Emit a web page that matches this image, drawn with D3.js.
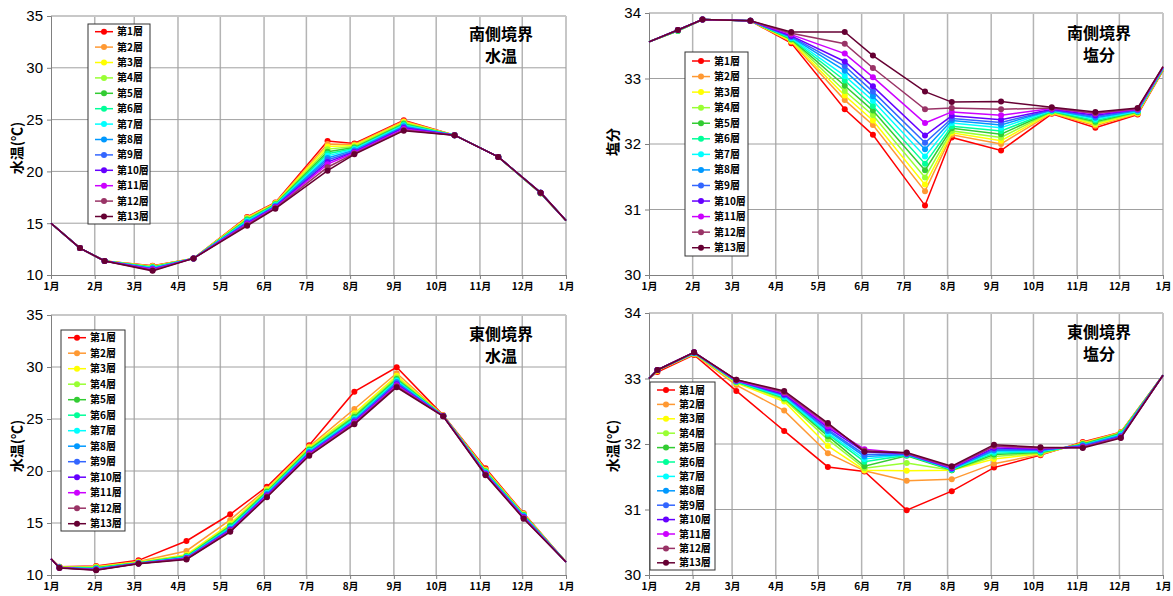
<html>
<head>
<script src="https://cdn.jsdelivr.net/npm/d3@7"></script>
<style>
  body { margin: 0; background: #fff; }
  svg text { font-family: "Liberation Sans Narrow", "Liberation Sans", "Noto Sans CJK JP", sans-serif; fill: #000; }
  .jp { font-family: "Noto Sans CJK JP", sans-serif; }
</style>
</head>
<body>
<svg id="chart" width="1173" height="596"></svg>
<script>
// layers
var layerNames = ["第1層","第2層","第3層","第4層","第5層","第6層","第7層","第8層","第9層","第10層","第11層","第12層","第13層"];
var layerColors = ["#ff0000","#ff9933","#ffff00","#99ff33","#33cc33","#00ff99","#00ffff","#0099ff","#3366ff","#6600ff","#cc00ff","#993366","#660033"];

// x axis: day of year of each month start
var monthDays = [0,31,59,90,120,151,181,212,243,273,304,334,365];
var monthLabels = ["1月","2月","3月","4月","5月","6月","7月","8月","9月","10月","11月","12月","1月"];

// observation days
var southDays = [0,20.5,38,72,101,139,159,196,215,250,286,317,347,365];
var eastDays  = [0,6,32,62,96,127,153,183,215,245,278,308,335,365];

// values by date, each row = 第1層 .. 第13層
var southTemp = [
  [15,15,15,15,15,15,15,15,15,15,15,15,15],
  [12.6,12.6,12.6,12.6,12.6,12.6,12.6,12.6,12.6,12.6,12.6,12.6,12.6],
  [11.35,11.35,11.35,11.35,11.35,11.35,11.35,11.35,11.35,11.35,11.35,11.35,11.35],
  [10.9,10.87,10.83,10.8,10.76,10.72,10.68,10.64,10.6,10.56,10.52,10.47,10.4],
  [11.6,11.6,11.6,11.6,11.6,11.6,11.6,11.6,11.6,11.6,11.6,11.6,11.6],
  [15.6,15.55,15.48,15.42,15.35,15.28,15.2,15.12,15.05,14.98,14.9,14.83,14.75],
  [17.0,16.96,16.92,16.87,16.82,16.77,16.72,16.67,16.62,16.57,16.52,16.46,16.4],
  [22.93,22.65,22.4,22.15,21.9,21.7,21.5,21.3,21.1,20.9,20.7,20.4,20.07],
  [22.7,22.6,22.5,22.4,22.3,22.2,22.15,22.05,21.95,21.88,21.8,21.72,21.65],
  [24.93,24.85,24.77,24.68,24.6,24.52,24.44,24.36,24.28,24.2,24.1,24.0,23.93],
  [23.5,23.5,23.5,23.5,23.5,23.5,23.5,23.5,23.5,23.5,23.5,23.5,23.5],
  [21.4,21.4,21.4,21.4,21.4,21.4,21.4,21.4,21.4,21.4,21.4,21.4,21.4],
  [17.9,17.9,17.9,17.9,17.9,17.9,17.95,17.95,17.95,17.95,17.95,17.95,17.95],
  [15.25,15.25,15.25,15.25,15.25,15.25,15.25,15.25,15.25,15.25,15.25,15.25,15.25]
];
var southSalt = [
  [33.56,33.56,33.56,33.56,33.56,33.56,33.56,33.56,33.56,33.56,33.56,33.56,33.56],
  [33.73,33.73,33.73,33.73,33.73,33.73,33.74,33.74,33.74,33.74,33.74,33.74,33.74],
  [33.9,33.9,33.9,33.9,33.9,33.9,33.9,33.9,33.9,33.9,33.9,33.9,33.9],
  [33.88,33.88,33.88,33.88,33.88,33.88,33.88,33.88,33.88,33.88,33.88,33.88,33.88],
  [33.54,33.56,33.57,33.59,33.6,33.61,33.62,33.63,33.64,33.65,33.67,33.69,33.71],
  [32.53,32.67,32.74,32.81,32.89,32.97,33.04,33.12,33.19,33.26,33.38,33.53,33.71],
  [32.14,32.29,32.36,32.44,32.51,32.58,32.66,32.73,32.8,32.88,33.02,33.16,33.35],
  [31.06,31.28,31.38,31.49,31.6,31.7,31.81,31.92,32.02,32.13,32.32,32.53,32.8],
  [32.1,32.14,32.17,32.2,32.24,32.27,32.32,32.36,32.39,32.43,32.49,32.55,32.64],
  [31.9,32.0,32.05,32.1,32.15,32.2,32.25,32.29,32.33,32.37,32.44,32.53,32.65],
  [32.46,32.47,32.48,32.49,32.5,32.5,32.51,32.52,32.52,32.53,32.54,32.55,32.56],
  [32.25,32.28,32.3,32.32,32.34,32.36,32.38,32.4,32.42,32.44,32.46,32.47,32.49],
  [32.45,32.46,32.47,32.48,32.49,32.5,32.5,32.51,32.52,32.53,32.53,32.54,32.55],
  [33.12,33.13,33.13,33.14,33.14,33.15,33.15,33.16,33.16,33.17,33.17,33.18,33.18]
];
var eastTemp = [
  [11.57,11.57,11.57,11.57,11.57,11.57,11.57,11.57,11.57,11.57,11.57,11.57,11.57],
  [10.8,10.78,10.76,10.75,10.74,10.73,10.72,10.71,10.7,10.7,10.69,10.69,10.68],
  [10.87,10.82,10.77,10.73,10.69,10.65,10.61,10.58,10.55,10.52,10.5,10.47,10.45],
  [11.41,11.3,11.24,11.2,11.18,11.16,11.14,11.13,11.12,11.11,11.1,11.1,11.09],
  [13.27,12.31,11.95,11.85,11.8,11.75,11.7,11.67,11.63,11.6,11.57,11.54,11.5],
  [15.84,15.3,14.95,14.8,14.7,14.6,14.5,14.45,14.38,14.32,14.26,14.2,14.15],
  [18.49,18.3,18.2,18.1,18.0,17.92,17.85,17.78,17.72,17.65,17.58,17.52,17.47],
  [22.47,22.35,22.25,22.15,22.05,21.97,21.9,21.82,21.75,21.68,21.6,21.53,21.47],
  [27.63,25.96,25.55,25.35,25.2,25.08,24.98,24.9,24.82,24.74,24.66,24.57,24.49],
  [29.97,29.4,29.15,29.0,28.85,28.75,28.65,28.55,28.45,28.35,28.25,28.15,28.05],
  [25.35,25.33,25.32,25.31,25.3,25.3,25.29,25.29,25.28,25.28,25.27,25.27,25.26],
  [20.26,20.15,20.08,20.02,19.96,19.9,19.85,19.8,19.76,19.72,19.68,19.64,19.6],
  [15.93,15.88,15.84,15.8,15.76,15.72,15.68,15.64,15.6,15.55,15.5,15.45,15.41],
  [11.25,11.25,11.25,11.25,11.25,11.25,11.25,11.25,11.25,11.25,11.25,11.25,11.25]
];
var eastSalt = [
  [33.0,33.0,33.0,33.0,33.0,33.0,33.0,33.0,33.0,33.0,33.0,33.0,33.0],
  [33.1,33.12,33.12,33.13,33.13,33.13,33.13,33.13,33.13,33.13,33.13,33.13,33.13],
  [33.36,33.37,33.38,33.38,33.39,33.39,33.39,33.39,33.4,33.4,33.4,33.4,33.4],
  [32.81,32.9,32.93,32.94,32.95,32.95,32.96,32.96,32.97,32.97,32.97,32.98,32.98],
  [32.2,32.51,32.65,32.68,32.7,32.71,32.72,32.74,32.75,32.76,32.78,32.79,32.81],
  [31.65,31.86,31.97,32.07,32.12,32.15,32.17,32.2,32.22,32.25,32.27,32.3,32.32],
  [31.58,31.59,31.6,31.63,31.66,31.73,31.77,31.81,31.84,31.88,31.92,31.9,31.88],
  [30.99,31.44,31.59,31.71,31.82,31.83,31.84,31.84,31.85,31.85,31.86,31.86,31.87],
  [31.28,31.46,31.6,31.6,31.6,31.61,31.61,31.62,31.63,31.63,31.64,31.65,31.66],
  [31.64,31.7,31.77,31.81,31.84,31.86,31.88,31.9,31.92,31.94,31.96,31.97,31.99],
  [31.83,31.84,31.85,31.86,31.87,31.88,31.89,31.9,31.91,31.92,31.93,31.94,31.95],
  [32.03,32.02,32.01,32.0,32.0,31.99,31.98,31.98,31.97,31.96,31.95,31.95,31.94],
  [32.18,32.18,32.17,32.17,32.16,32.15,32.14,32.13,32.12,32.11,32.1,32.1,32.09],
  [33.05,33.05,33.05,33.05,33.05,33.05,33.05,33.05,33.05,33.05,33.05,33.05,33.05]
];

var tempTicks = [10,15,20,25,30,35];
var saltTicks = [30,31,32,33,34];

var panels = [
  {days: southDays, values: southTemp, yDomain: [10,35], yTicks: tempTicks,
   x0: 51, x1: 566, y0: 16, y1: 275, title: ["南側境界","水温"], tx: 501, ty: 34,
   yLabel: "水温(℃)", lx: 17, ly: 148,
   legend: {x: 88, y: 24, w: 62, h: 200, first: 7.7, step: 15.4}},
  {days: southDays, values: southSalt, yDomain: [30,34], yTicks: saltTicks,
   x0: 649, x1: 1163, y0: 13, y1: 275, title: ["南側境界","塩分"], tx: 1099, ty: 33,
   yLabel: "塩分", lx: 613, ly: 142,
   legend: {x: 685, y: 52, w: 63, h: 204, first: 9, step: 15.56}},
  {days: eastDays, values: eastTemp, yDomain: [10,35], yTicks: tempTicks,
   x0: 51, x1: 566, y0: 315, y1: 575, title: ["東側境界","水温"], tx: 501, ty: 334,
   yLabel: "水温(℃)", lx: 17, ly: 446,
   legend: {x: 61, y: 330, w: 64, h: 201, first: 7.7, step: 15.5}},
  {days: eastDays, values: eastSalt, yDomain: [30,34], yTicks: saltTicks,
   x0: 649, x1: 1163, y0: 313, y1: 575, title: ["東側境界","塩分"], tx: 1099, ty: 332,
   yLabel: "水温(℃)", lx: 613, ly: 446,
   legend: {x: 650, y: 382, w: 65, h: 188, first: 8, step: 14.4}}
];

var svg = d3.select("#chart");

panels.forEach(function(p) {
  var x = d3.scaleLinear().domain([0,365]).range([p.x0, p.x1]);
  var y = d3.scaleLinear().domain(p.yDomain).range([p.y1, p.y0]);
  var g = svg.append("g");

  // grid
  g.selectAll(".vgrid").data(monthDays.slice(1)).enter().append("line")
    .attr("x1", function(d) { return x(d); }).attr("x2", function(d) { return x(d); })
    .attr("y1", p.y0).attr("y2", p.y1)
    .attr("stroke", "#b4b4b4").attr("stroke-width", 1.5);
  g.selectAll(".hgrid").data(p.yTicks.slice(1)).enter().append("line")
    .attr("x1", p.x0).attr("x2", p.x1)
    .attr("y1", function(d) { return y(d); }).attr("y2", function(d) { return y(d); })
    .attr("stroke", function(d, i) { return i == p.yTicks.length - 2 ? "#c8c8c8" : "#a0a0a0"; })
    .attr("stroke-width", function(d, i) { return i == p.yTicks.length - 2 ? 2 : 1; });

  // axes
  var yAxis = d3.axisLeft(y).tickValues(p.yTicks).tickSize(4).tickPadding(4).tickFormat(d3.format("d"));
  var ya = g.append("g").attr("transform", "translate(" + p.x0 + ",0)").call(yAxis);
  ya.select(".domain").attr("stroke", "#808080");
  ya.selectAll(".tick line").attr("stroke", "#808080");
  ya.selectAll("text").style("font-size", "15px");

  var xAxis = d3.axisBottom(x).tickValues(monthDays).tickSize(4).tickPadding(4)
    .tickFormat(function(d, i) { return monthLabels[i]; });
  var xa = g.append("g").attr("transform", "translate(0," + p.y1 + ")").call(xAxis);
  xa.select(".domain").attr("stroke", "#808080");
  xa.selectAll(".tick line").attr("stroke", "#808080");
  xa.selectAll("text").attr("class", "jp").style("font-size", "10px").style("font-weight", "bold");

  // series
  var rows = d3.transpose(p.values);
  var line = d3.line().x(function(d, i) { return x(p.days[i]); }).y(function(d) { return y(d); });
  rows.forEach(function(r, k) {
    var s = g.append("g");
    s.append("path").attr("d", line(r)).attr("fill", "none")
      .attr("stroke", layerColors[k]).attr("stroke-width", 1.5);
    s.selectAll("circle").data(r.slice(1, r.length - 1)).enter().append("circle")
      .attr("cx", function(d, i) { return x(p.days[i + 1]); })
      .attr("cy", function(d) { return y(d); })
      .attr("r", 3).attr("fill", layerColors[k]);
  });

  // title
  g.selectAll(".title").data(p.title).enter().append("text")
    .attr("class", "jp")
    .attr("x", p.tx).attr("y", function(d, i) { return p.ty + i * 22; })
    .attr("dy", "0.35em").attr("text-anchor", "middle")
    .style("font-size", "16px").style("font-weight", "bold")
    .text(function(d) { return d; });

  // y label
  g.append("text").attr("class", "jp")
    .attr("transform", "translate(" + p.lx + "," + p.ly + ") rotate(-90)")
    .attr("text-anchor", "middle").attr("dy", "0.35em")
    .style("font-size", "14px").style("font-weight", "bold")
    .text(p.yLabel);

  // legend
  var L = p.legend;
  var lg = g.append("g").attr("transform", "translate(" + L.x + "," + L.y + ")");
  lg.append("rect").attr("width", L.w).attr("height", L.h)
    .attr("fill", "#fff").attr("stroke", "#333").attr("stroke-width", 1);
  var item = lg.selectAll(".item").data(layerNames).enter().append("g")
    .attr("transform", function(d, i) { return "translate(0," + (L.first + i * L.step) + ")"; });
  item.append("line").attr("x1", 7).attr("x2", 25)
    .attr("stroke", function(d, i) { return layerColors[i]; }).attr("stroke-width", 1.5);
  item.append("circle").attr("cx", 16).attr("r", 3)
    .attr("fill", function(d, i) { return layerColors[i]; });
  item.append("text").attr("class", "jp").attr("x", 29).attr("dy", "0.35em")
    .style("font-size", "10px").style("font-weight", "bold")
    .text(function(d) { return d; });
});
</script>
</body>
</html>
